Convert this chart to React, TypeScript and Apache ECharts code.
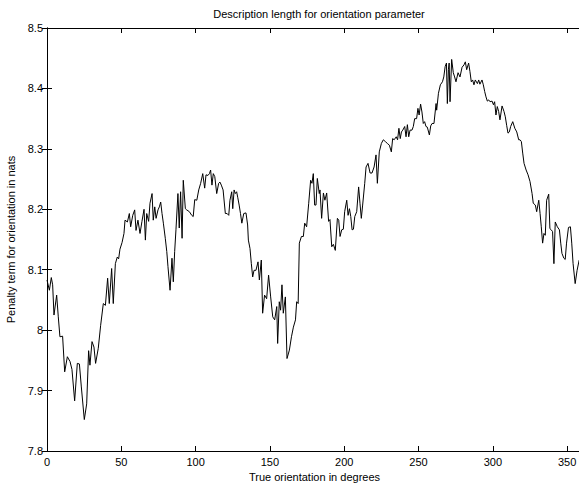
import React, { useEffect, useRef } from "react";
import * as echarts from "echarts";

const titleText = "Description length for orientation parameter";
const xName = "True orientation in degrees";
const yName = "Penalty term for orientation in nats";

const degrees = [
  0, 1.6, 2.9, 3.8, 4.7, 6.5, 7.6, 8.7, 10.5, 11.9, 13.7, 15.5, 16.8, 18.6, 20.4, 21.8, 23.1, 25.1, 26.7, 28.0,
  28.9, 30.3, 31.6, 32.7, 34.5, 36.1, 37.9, 39.3, 40.8, 41.9, 43.5, 44.6, 46.0, 47.3, 48.2, 49.1, 50.5, 51.8, 52.5, 54.1,
  55.4, 56.3, 57.7, 59.0, 59.9, 61.2, 62.6, 63.9, 65.3, 66.2, 67.1, 68.4, 69.3, 70.7, 71.5, 72.5, 73.4, 74.7, 75.6, 76.5,
  77.4, 78.3, 79.6, 80.6, 81.4, 82.8, 84.1, 85.0, 85.9, 86.8, 88.1, 89.0, 89.9, 90.9, 91.7, 93.1, 94.0, 95.8, 97.4, 98.4,
  99.4, 100.8, 102.1, 103.4, 104.8, 106.1, 107.0, 108.3, 109.3, 110.1, 111.0, 111.9, 112.9, 114.2, 115.5, 116.4, 117.3, 118.5, 120.0, 121.2,
  122.3, 123.1, 124.3, 125.0, 125.9, 126.7, 127.6, 128.4, 129.3, 130.2, 131.1, 132.4, 133.9, 135.0, 135.5, 136.6, 137.5, 138.4, 139.3, 140.6,
  142.0, 142.9, 144.2, 145.1, 146.4, 147.8, 149.1, 150.5, 151.9, 153.2, 154.6, 155.2, 156.3, 157.2, 158.1, 159.0, 160.4, 161.5, 163.1, 164.5,
  165.8, 167.2, 168.0, 169.0, 169.8, 171.2, 172.5, 173.4, 174.7, 176.1, 177.4, 178.3, 179.2, 180.1, 181.0, 181.9, 183.2, 183.7, 184.8, 186.0,
  187.0, 188.2, 189.5, 190.4, 191.6, 192.7, 194.0, 195.4, 196.3, 197.2, 198.3, 199.4, 200.3, 201.7, 202.6, 203.5, 204.4, 205.3, 206.2, 207.1,
  208.4, 209.7, 210.6, 211.5, 212.4, 213.8, 214.7, 216.0, 217.4, 218.7, 220.1, 221.4, 222.3, 223.6, 225.0, 226.3, 227.7, 229.0, 230.4, 231.7,
  232.6, 233.6, 235.0, 235.9, 236.8, 237.7, 238.5, 239.4, 240.7, 241.6, 242.5, 243.4, 244.3, 245.6, 246.5, 247.4, 248.7, 249.6, 250.4, 251.4,
  252.3, 253.2, 254.1, 255.0, 255.9, 257.3, 258.2, 259.1, 260.4, 261.8, 262.2, 263.4, 264.7, 266.1, 267.0, 267.9, 268.8, 269.4, 270.1, 270.6,
  271.2, 272.3, 273.4, 274.3, 275.2, 276.6, 277.9, 279.3, 280.6, 281.5, 282.4, 283.7, 284.6, 285.5, 286.4, 287.3, 288.2, 289.6, 290.5, 291.3,
  292.7, 293.6, 294.5, 295.4, 296.3, 297.2, 298.1, 299.5, 300.4, 301.2, 302.1, 303.0, 303.9, 304.8, 306.2, 307.5, 308.4, 309.3, 310.2, 311.1,
  312.0, 313.4, 314.8, 316.1, 317.4, 318.3, 319.2, 320.1, 321.0, 322.4, 323.7, 325.0, 326.4, 327.2, 328.6, 329.5, 330.9, 331.8, 332.6, 333.5,
  334.4, 335.3, 336.2, 337.6, 338.4, 339.3, 340.2, 341.1, 342.0, 343.4, 344.8, 345.7, 346.5, 347.8, 348.7, 349.6, 350.9, 352.2, 353.1, 354.0,
  355.4, 356.7, 358.1, 359,
];

const penalty = [
  8.083, 8.066, 8.087, 8.075, 8.025, 8.058, 8.022, 7.989, 7.990, 7.931, 7.956, 7.948, 7.935, 7.883, 7.945, 7.944, 7.906, 7.852, 7.878, 7.966,
  7.942, 7.981, 7.972, 7.945, 7.970, 8.008, 8.044, 8.041, 8.086, 8.044, 8.102, 8.044, 8.110, 8.121, 8.118, 8.134, 8.145, 8.160, 8.182, 8.179,
  8.193, 8.171, 8.190, 8.199, 8.165, 8.182, 8.160, 8.180, 8.200, 8.149, 8.193, 8.180, 8.210, 8.226, 8.182, 8.204, 8.185, 8.199, 8.204, 8.212,
  8.193, 8.177, 8.152, 8.130, 8.105, 8.066, 8.119, 8.080, 8.130, 8.167, 8.226, 8.169, 8.229, 8.152, 8.248, 8.201, 8.199, 8.196, 8.190, 8.188,
  8.216, 8.215, 8.232, 8.243, 8.259, 8.235, 8.257, 8.256, 8.259, 8.265, 8.240, 8.259, 8.254, 8.226, 8.243, 8.245, 8.240, 8.232, 8.193, 8.193,
  8.190, 8.215, 8.229, 8.201, 8.232, 8.226, 8.229, 8.219, 8.207, 8.193, 8.177, 8.193, 8.194, 8.174, 8.149, 8.135, 8.110, 8.088, 8.099, 8.099,
  8.113, 8.083, 8.116, 8.028, 8.058, 8.052, 8.091, 8.055, 8.022, 8.017, 8.039, 7.978, 8.047, 8.033, 8.075, 8.028, 8.055, 7.953, 7.967, 7.989,
  8.005, 8.017, 8.047, 8.044, 8.144, 8.155, 8.155, 8.177, 8.171, 8.210, 8.248, 8.243, 8.259, 8.207, 8.207, 8.251, 8.226, 8.232, 8.185, 8.227,
  8.215, 8.227, 8.180, 8.183, 8.138, 8.142, 8.132, 8.185, 8.182, 8.155, 8.166, 8.167, 8.196, 8.215, 8.190, 8.201, 8.188, 8.166, 8.167, 8.188,
  8.196, 8.237, 8.210, 8.185, 8.207, 8.243, 8.270, 8.276, 8.260, 8.260, 8.270, 8.290, 8.243, 8.295, 8.309, 8.315, 8.312, 8.309, 8.306, 8.295,
  8.317, 8.315, 8.320, 8.315, 8.334, 8.317, 8.328, 8.331, 8.337, 8.320, 8.340, 8.320, 8.331, 8.331, 8.337, 8.350, 8.350, 8.367, 8.356, 8.374,
  8.361, 8.342, 8.345, 8.337, 8.336, 8.323, 8.338, 8.342, 8.342, 8.375, 8.364, 8.392, 8.406, 8.411, 8.419, 8.436, 8.442, 8.375, 8.431, 8.442,
  8.378, 8.448, 8.426, 8.419, 8.411, 8.426, 8.419, 8.435, 8.439, 8.444, 8.431, 8.442, 8.428, 8.411, 8.414, 8.406, 8.414, 8.408, 8.414, 8.407,
  8.414, 8.406, 8.395, 8.386, 8.379, 8.381, 8.378, 8.379, 8.373, 8.378, 8.356, 8.370, 8.362, 8.348, 8.371, 8.362, 8.353, 8.339, 8.326, 8.328,
  8.337, 8.345, 8.334, 8.328, 8.315, 8.315, 8.312, 8.293, 8.276, 8.265, 8.257, 8.246, 8.226, 8.210, 8.207, 8.196, 8.215, 8.193, 8.171, 8.144,
  8.160, 8.157, 8.215, 8.225, 8.168, 8.166, 8.163, 8.110, 8.179, 8.171, 8.166, 8.144, 8.127, 8.119, 8.117, 8.144, 8.170, 8.171, 8.144, 8.110,
  8.077, 8.099, 8.116, 8.118,
];

const xMin = 0;
const xMax = 360;
const xStep = 50;
const yMin = 7.8;
const yMax = 8.5;
const yStep = 0.1;

export default function App() {
  const ref = useRef<HTMLDivElement>(null);
  useEffect(() => {
    if (!ref.current) return;
    const chart = echarts.init(ref.current, null, { renderer: "svg" });
    const font = "'Liberation Sans', Arial, Helvetica, sans-serif";
    const axisLine = { show: true, lineStyle: { color: "#000", width: 1 } };
    const tick = { show: true, inside: true, length: 5, lineStyle: { color: "#000", width: 1 } };
    const data = degrees.map((d, i) => [d, penalty[i]]);
    chart.setOption({
      animation: false,
      backgroundColor: "#fff",
      textStyle: { fontFamily: font },
      title: {
        text: titleText,
        left: 314,
        textAlign: "center",
        top: 3,
        textStyle: { fontSize: 11, fontWeight: "normal", color: "#000", fontFamily: font },
      },
      grid: {
        left: 47,
        right: -3,
        top: 28,
        bottom: 33,
        containLabel: false,
        outerBoundsMode: "none",
      },
      xAxis: [
        {
          type: "value",
          min: xMin,
          max: xMax,
          interval: xStep,
          name: xName,
          nameLocation: "middle",
          nameGap: 17,
          nameTextStyle: { fontSize: 11, color: "#000", fontFamily: font },
          axisLine,
          axisTick: tick,
          axisLabel: { fontSize: 11, color: "#000", margin: 5, fontFamily: font, showMaxLabel: false },
          splitLine: { show: false },
        },
        {
          type: "value",
          position: "top",
          min: xMin,
          max: xMax,
          interval: xStep,
          axisLine,
          axisTick: tick,
          axisLabel: { show: false },
          splitLine: { show: false },
        },
      ],
      yAxis: [
        {
          type: "value",
          min: yMin,
          max: yMax,
          interval: yStep,
          name: yName,
          nameLocation: "middle",
          nameGap: 26,
          nameTextStyle: { fontSize: 11, color: "#000", fontFamily: font },
          axisLine,
          axisTick: tick,
          axisLabel: {
            fontSize: 11,
            color: "#000",
            margin: 4,
            fontFamily: font,
            formatter: (v: number) => String(Math.round(v * 10) / 10),
          },
          splitLine: { show: false },
        },
        {
          type: "value",
          position: "right",
          min: yMin,
          max: yMax,
          interval: yStep,
          axisLine,
          axisTick: tick,
          axisLabel: { show: false },
          splitLine: { show: false },
        },
      ],
      series: [
        {
          type: "line",
          data,
          showSymbol: false,
          symbol: "none",
          lineStyle: { color: "#000", width: 1 },
          xAxisIndex: 0,
          yAxisIndex: 0,
        },
      ],
    });
    return () => chart.dispose();
  }, []);
  return (
    <div
      ref={ref}
      style={{ position: "fixed", left: 0, top: 0, width: 579, height: 484 }}
    />
  );
}
